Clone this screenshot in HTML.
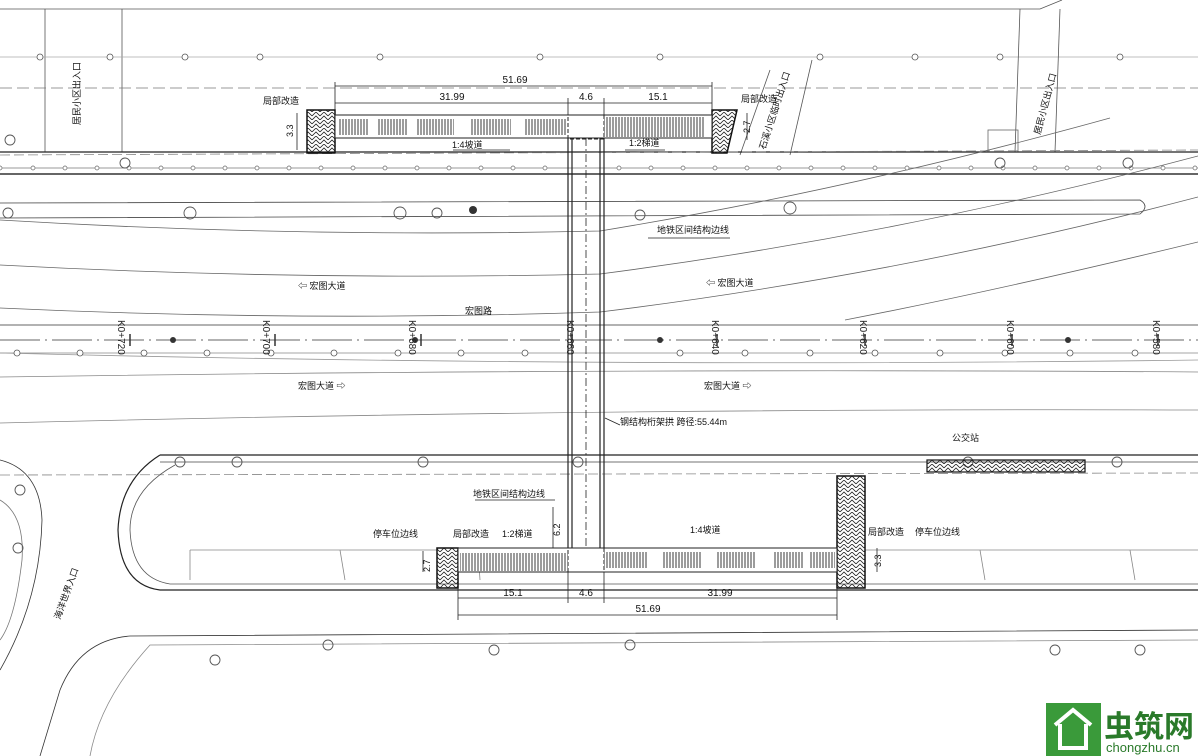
<!DOCTYPE html>
<html><head><meta charset="utf-8"><style>
html,body{margin:0;padding:0;background:#fff;}
svg{display:block;font-family:"Liberation Sans","Noto Sans CJK SC",sans-serif;}
</style></head><body>
<svg width="1198" height="756" viewBox="0 0 1198 756" xmlns="http://www.w3.org/2000/svg">
<defs>
<pattern id="hb" width="8" height="8" patternUnits="userSpaceOnUse">
<path d="M0 4 L4 0 L8 4 M0 8 L4 4 L8 8" stroke="#222" stroke-width="0.8" fill="none"/>
</pattern>
<pattern id="st" width="3" height="10" patternUnits="userSpaceOnUse">
<line x1="1" y1="0" x2="1" y2="10" stroke="#222" stroke-width="0.9"/>
</pattern>
</defs>
<g fill="none" stroke="#555" stroke-width="0.8">
<polyline points="0,9 1040,9 1062,0"/>
<line x1="45" y1="9" x2="45" y2="152"/>
<line x1="122" y1="9" x2="122" y2="152"/>
<line x1="0" y1="57" x2="1198" y2="57" stroke="#aaa"/>
<line x1="0" y1="88" x2="1198" y2="88" stroke-dasharray="12 5" stroke="#777"/>
<line x1="1020" y1="9" x2="1015" y2="152"/>
<line x1="1060" y1="9" x2="1055" y2="152"/>
<line x1="770" y1="70" x2="740" y2="155"/>
<line x1="812" y1="60" x2="790" y2="155"/>
<rect x="988" y="130" width="30" height="22" stroke="#666"/>
<line x1="0" y1="152" x2="1198" y2="152" stroke="#222" stroke-width="1.2"/>
<line x1="0" y1="155" x2="1198" y2="150" stroke="#888" stroke-dasharray="10 4"/>
<line x1="0" y1="168" x2="1198" y2="168" stroke="#777"/>
<line x1="0" y1="174" x2="1198" y2="174" stroke="#333" stroke-width="1.4"/>
<path d="M0 203 L1140 200 Q1150 206 1140 214 L0 218" stroke="#444"/>
<path d="M0 220 Q300 238 600 231 Q850 190 1110 118" stroke="#666"/>
<path d="M0 265 Q300 281 600 274 Q900 235 1198 156" stroke="#666"/>
<path d="M0 308 Q300 322 600 312 Q900 275 1198 197" stroke="#666"/>
<path d="M845 320 Q1000 290 1198 242" stroke="#666"/>
<line x1="0" y1="325" x2="1198" y2="325" stroke="#333"/>
<line x1="0" y1="340" x2="1198" y2="340" stroke="#333" stroke-dasharray="40 5 2 5"/>
<line x1="0" y1="353" x2="1198" y2="353" stroke="#888"/>
<path d="M0 353 Q600 368 1198 360" stroke="#999"/>
<path d="M0 377 Q600 368 1198 372" stroke="#888"/>
<path d="M0 423 Q600 408 1198 410" stroke="#888"/>
<line x1="160" y1="455" x2="1198" y2="455" stroke="#222" stroke-width="1.2"/>
<line x1="160" y1="462" x2="1198" y2="462" stroke="#444"/>
<line x1="0" y1="475" x2="1198" y2="473" stroke="#888" stroke-dasharray="10 4"/>
<path d="M160 455 Q120 480 118 530 Q120 585 160 590 L1198 590" stroke="#222" stroke-width="1.2"/>
<path d="M175 465 Q130 490 130 530 Q132 578 170 584 L1198 584" stroke="#555"/>
<path d="M0 460 Q40 470 42 520 Q40 600 0 670" stroke="#333"/>
<path d="M0 500 Q25 515 22 560 Q15 620 0 640" stroke="#777"/>
<path d="M40 756 L60 690 Q80 640 130 636 L1198 630" stroke="#333"/>
<path d="M90 756 Q100 700 150 645 L1198 640" stroke="#888"/>
<path d="M190 550 L190 580 M340 550 L345 580 M478 550 L480 580 M980 550 L985 580 M1130 550 L1135 580" stroke="#888"/>
<line x1="190" y1="550" x2="437" y2="550" stroke="#888"/>
<line x1="865" y1="550" x2="1198" y2="550" stroke="#888"/>
</g>
<g fill="#fff" stroke="#555" stroke-width="0.8">
<circle cx="40" cy="57" r="3"/><circle cx="110" cy="57" r="3"/><circle cx="185" cy="57" r="3"/><circle cx="260" cy="57" r="3"/><circle cx="380" cy="57" r="3"/><circle cx="540" cy="57" r="3"/><circle cx="660" cy="57" r="3"/><circle cx="820" cy="57" r="3"/><circle cx="915" cy="57" r="3"/><circle cx="1000" cy="57" r="3"/><circle cx="1120" cy="57" r="3"/>
<circle cx="17" cy="353" r="3"/><circle cx="80" cy="353" r="3"/><circle cx="144" cy="353" r="3"/><circle cx="207" cy="353" r="3"/><circle cx="271" cy="353" r="3"/><circle cx="334" cy="353" r="3"/><circle cx="398" cy="353" r="3"/><circle cx="461" cy="353" r="3"/><circle cx="525" cy="353" r="3"/><circle cx="680" cy="353" r="3"/><circle cx="745" cy="353" r="3"/><circle cx="810" cy="353" r="3"/><circle cx="875" cy="353" r="3"/><circle cx="940" cy="353" r="3"/><circle cx="1005" cy="353" r="3"/><circle cx="1070" cy="353" r="3"/><circle cx="1135" cy="353" r="3"/>
</g>
<g fill="#fff" stroke="#666" stroke-width="0.7">
<circle cx="0" cy="168" r="2"/><circle cx="33" cy="168" r="2"/><circle cx="65" cy="168" r="2"/><circle cx="97" cy="168" r="2"/><circle cx="129" cy="168" r="2"/><circle cx="161" cy="168" r="2"/><circle cx="193" cy="168" r="2"/><circle cx="225" cy="168" r="2"/><circle cx="257" cy="168" r="2"/><circle cx="289" cy="168" r="2"/><circle cx="321" cy="168" r="2"/><circle cx="353" cy="168" r="2"/><circle cx="385" cy="168" r="2"/><circle cx="417" cy="168" r="2"/><circle cx="449" cy="168" r="2"/><circle cx="481" cy="168" r="2"/><circle cx="513" cy="168" r="2"/><circle cx="545" cy="168" r="2"/><circle cx="619" cy="168" r="2"/><circle cx="651" cy="168" r="2"/><circle cx="683" cy="168" r="2"/><circle cx="715" cy="168" r="2"/><circle cx="747" cy="168" r="2"/><circle cx="779" cy="168" r="2"/><circle cx="811" cy="168" r="2"/><circle cx="843" cy="168" r="2"/><circle cx="875" cy="168" r="2"/><circle cx="907" cy="168" r="2"/><circle cx="939" cy="168" r="2"/><circle cx="971" cy="168" r="2"/><circle cx="1003" cy="168" r="2"/><circle cx="1035" cy="168" r="2"/><circle cx="1067" cy="168" r="2"/><circle cx="1099" cy="168" r="2"/><circle cx="1131" cy="168" r="2"/><circle cx="1163" cy="168" r="2"/><circle cx="1195" cy="168" r="2"/>
</g>
<!-- tree symbols -->
<g fill="none" stroke="#555" stroke-width="0.9">
<circle cx="10" cy="140" r="5"/><circle cx="125" cy="163" r="5"/><circle cx="190" cy="213" r="6"/><circle cx="8" cy="213" r="5"/><circle cx="400" cy="213" r="6"/><circle cx="437" cy="213" r="5"/><circle cx="640" cy="215" r="5"/><circle cx="790" cy="208" r="6"/><circle cx="1000" cy="163" r="5"/><circle cx="1128" cy="163" r="5"/><circle cx="180" cy="462" r="5"/><circle cx="237" cy="462" r="5"/><circle cx="423" cy="462" r="5"/><circle cx="578" cy="462" r="5"/><circle cx="968" cy="462" r="5"/><circle cx="1117" cy="462" r="5"/><circle cx="215" cy="660" r="5"/><circle cx="328" cy="645" r="5"/><circle cx="494" cy="650" r="5"/><circle cx="630" cy="645" r="5"/><circle cx="1055" cy="650" r="5"/><circle cx="1140" cy="650" r="5"/><circle cx="20" cy="490" r="5"/><circle cx="18" cy="548" r="5"/>
</g>
<g fill="#333"><circle cx="473" cy="210" r="4"/><circle cx="173" cy="340" r="3"/><circle cx="415" cy="340" r="3"/><circle cx="660" cy="340" r="3"/><circle cx="1068" cy="340" r="3"/></g>
<g stroke="#333" stroke-width="1.5">
<line x1="130" y1="334" x2="130" y2="346"/><line x1="275" y1="334" x2="275" y2="346"/><line x1="421" y1="334" x2="421" y2="346"/><line x1="572" y1="334" x2="572" y2="346"/><line x1="717" y1="334" x2="717" y2="346"/><line x1="865" y1="334" x2="865" y2="346"/><line x1="1012" y1="334" x2="1012" y2="346"/><line x1="1158" y1="334" x2="1158" y2="346"/>
</g>
<g font-size="10" fill="#222">
<text transform="translate(118,320) rotate(90)">K0+720</text>
<text transform="translate(263,320) rotate(90)">K0+700</text>
<text transform="translate(409,320) rotate(90)">K0+680</text>
<text transform="translate(567,320) rotate(90)">K0+660</text>
<text transform="translate(712,320) rotate(90)">K0+640</text>
<text transform="translate(860,320) rotate(90)">K0+620</text>
<text transform="translate(1007,320) rotate(90)">K0+600</text>
<text transform="translate(1153,320) rotate(90)">K0+580</text>
</g>
<g fill="none" stroke="#222" stroke-width="1.2">
<line x1="568" y1="138" x2="568" y2="572"/>
<line x1="572" y1="138" x2="572" y2="548"/>
<line x1="600" y1="138" x2="600" y2="548"/>
<line x1="604" y1="138" x2="604" y2="572"/>
<line x1="586" y1="138" x2="586" y2="572" stroke-dasharray="8 3 2 3" stroke-width="0.8"/>
</g>
<rect x="307" y="110" width="28" height="43" fill="url(#hb)" stroke="#111" stroke-width="1.5"/>
<polygon points="712,110 737,110 727,153 712,153" fill="url(#hb)" stroke="#111" stroke-width="1.5"/>
<rect x="335" y="115" width="377" height="23" fill="#fff" stroke="#222"/>
<rect x="338" y="119" width="30" height="16" fill="url(#st)"/>
<rect x="378" y="119" width="30" height="16" fill="url(#st)"/>
<rect x="416" y="119" width="38" height="16" fill="url(#st)"/>
<rect x="471" y="119" width="40" height="16" fill="url(#st)"/>
<rect x="525" y="119" width="42" height="16" fill="url(#st)"/>
<rect x="604" y="117" width="100" height="20" fill="url(#st)"/>
<rect x="568" y="115" width="36" height="24" fill="none" stroke="#222" stroke-dasharray="4 2"/>
<rect x="437" y="548" width="21" height="40" fill="url(#hb)" stroke="#111" stroke-width="1.5"/>
<rect x="837" y="476" width="28" height="112" fill="url(#hb)" stroke="#111" stroke-width="1.5"/>
<rect x="458" y="548" width="379" height="24" fill="#fff" stroke="#222"/>
<rect x="460" y="553" width="108" height="18" fill="url(#st)"/>
<rect x="604" y="552" width="44" height="16" fill="url(#st)"/>
<rect x="662" y="552" width="40" height="16" fill="url(#st)"/>
<rect x="716" y="552" width="40" height="16" fill="url(#st)"/>
<rect x="774" y="552" width="30" height="16" fill="url(#st)"/>
<rect x="810" y="552" width="25" height="16" fill="url(#st)"/>
<rect x="568" y="548" width="36" height="24" fill="none" stroke="#222" stroke-dasharray="4 2"/>
<rect x="927" y="460" width="158" height="12" fill="url(#hb)" stroke="#111" stroke-width="1.2"/>
<g stroke="#222" stroke-width="0.8" fill="none">
<line x1="335" y1="86" x2="712" y2="86"/><line x1="335" y1="103" x2="568" y2="103"/><line x1="568" y1="103" x2="604" y2="103"/><line x1="604" y1="103" x2="712" y2="103"/>
<line x1="335" y1="82" x2="335" y2="115"/><line x1="712" y1="82" x2="712" y2="115"/><line x1="568" y1="98" x2="568" y2="115"/><line x1="604" y1="98" x2="604" y2="115"/>
<line x1="458" y1="598" x2="568" y2="598"/><line x1="568" y1="598" x2="604" y2="598"/><line x1="604" y1="598" x2="837" y2="598"/><line x1="458" y1="615" x2="837" y2="615"/>
<line x1="458" y1="588" x2="458" y2="620"/><line x1="837" y1="588" x2="837" y2="620"/><line x1="568" y1="572" x2="568" y2="603"/><line x1="604" y1="572" x2="604" y2="603"/>
<line x1="553" y1="507" x2="553" y2="548"/>
<line x1="297" y1="113" x2="297" y2="150"/><line x1="747" y1="113" x2="747" y2="140"/>
<line x1="423" y1="551" x2="423" y2="572"/><line x1="877" y1="548" x2="877" y2="572"/>
<line x1="453" y1="150" x2="510" y2="150"/><line x1="625" y1="150" x2="665" y2="150"/>
<line x1="475" y1="500" x2="555" y2="500"/><line x1="605" y1="418" x2="620" y2="425"/>
<line x1="648" y1="238" x2="730" y2="238"/>
</g>
<g font-size="10" fill="#111" text-anchor="middle">
<text x="515" y="83">51.69</text><text x="452" y="100">31.99</text><text x="586" y="100">4.6</text><text x="658" y="100">15.1</text>
<text x="513" y="596">15.1</text><text x="586" y="596">4.6</text><text x="720" y="596">31.99</text><text x="648" y="612">51.69</text>
</g>
<g font-size="9" fill="#111">
<text x="263" y="104">局部改造</text><text x="741" y="102">局部改造</text>
<text x="452" y="148">1:4坡道</text><text x="629" y="146">1:2梯道</text>
<text x="657" y="233">地铁区间结构边线</text>
<text x="298" y="289">⇦ 宏图大道</text><text x="706" y="286">⇦ 宏图大道</text>
<text x="465" y="314">宏图路</text>
<text x="298" y="389">宏图大道 ⇨</text><text x="704" y="389">宏图大道 ⇨</text>
<text x="620" y="425">钢结构桁架拱 跨径:55.44m</text>
<text x="952" y="441">公交站</text>
<text x="473" y="497">地铁区间结构边线</text>
<text x="373" y="537">停车位边线</text><text x="453" y="537">局部改造</text><text x="502" y="537">1:2梯道</text>
<text x="690" y="533">1:4坡道</text><text x="868" y="535">局部改造</text><text x="915" y="535">停车位边线</text>
</g>
<g font-size="9" fill="#111">
<text transform="translate(80,125) rotate(-90)">居民小区出入口</text>
<text transform="translate(1040,135) rotate(-75)">居民小区出入口</text>
<text transform="translate(765,150) rotate(-72)">石溪小区临时出入口</text>
<text transform="translate(60,620) rotate(-70)">海洋世界入口</text>
<text transform="translate(293,137) rotate(-90)">3.3</text><text transform="translate(750,133) rotate(-90)">2.7</text>
<text transform="translate(560,536) rotate(-90)">6.2</text>
<text transform="translate(430,572) rotate(-90)">2.7</text><text transform="translate(881,567) rotate(-90)">3.3</text>
</g>
<rect x="1046" y="703" width="55" height="53" fill="#3a9a3a"/>
<path d="M1055 725 L1073 710 L1091 725 M1060 724 L1060 748 L1086 748 L1086 724" stroke="#fff" stroke-width="4" fill="none"/>
<text x="1104" y="737" font-size="30" font-weight="bold" fill="#2a7a2a">虫筑网</text>
<text x="1106" y="752" font-size="13" fill="#2a7a2a">chongzhu.cn</text>
</svg>
</body></html>
